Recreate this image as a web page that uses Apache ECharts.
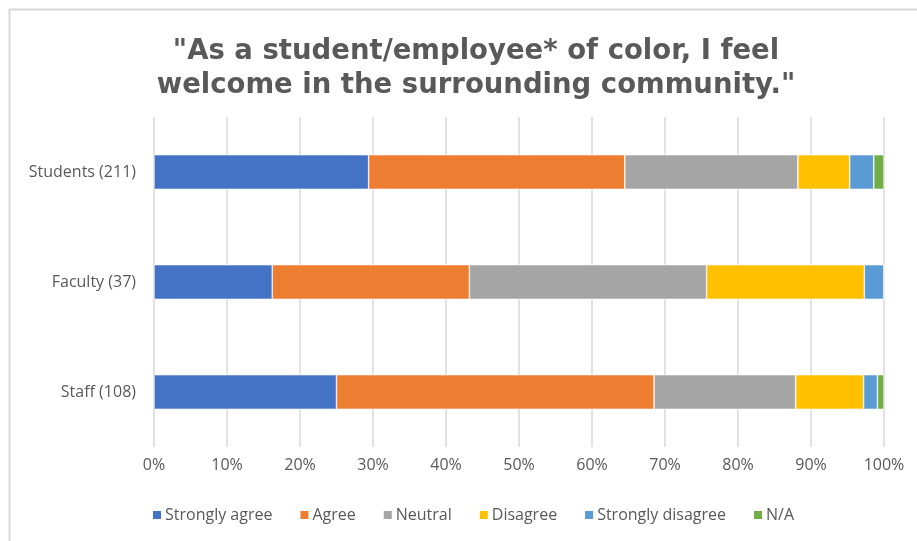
<!DOCTYPE html>
<html><head><meta charset="utf-8">
<script src="https://cdn.jsdelivr.net/npm/echarts@6/dist/echarts.min.js"></script>
<style>html,body{margin:0;padding:0;background:#fff}#c{width:917px;height:541px}</style>
</head><body><div id="c"></div>
<script>
var categories = ['Staff (108)', 'Faculty (37)', 'Students (211)'];
var seriesNames = ['Strongly agree', 'Agree', 'Neutral', 'Disagree', 'Strongly disagree', 'N/A'];
var stronglyAgree = [25.0, 16.2, 29.4];
var agree = [43.5, 27.0, 35.1];
var neutral = [19.4, 32.5, 23.7];
var disagree = [9.3, 21.6, 7.1];
var stronglyDisagree = [1.9, 2.7, 3.3];
var na = [0.9, 0, 1.4];
var tickLabels = ['0%','10%','20%','30%','40%','50%','60%','70%','80%','90%','100%'];
var colors = ['#4472C4', '#ED7D31', '#A5A5A5', '#FFC000', '#5B9BD5', '#70AD47'];
var values = [stronglyAgree, agree, neutral, disagree, stronglyDisagree, na];

var chart = echarts.init(document.getElementById('c'), null, {renderer: 'canvas'});
var font = "'Open Sans', sans-serif";
chart.setOption({
  animation: false,
  color: colors,
  title: {
    text: '"As a student/employee* of color, I feel\nwelcome in the surrounding community."',
    left: 471, top: 30, textAlign: 'center',
    textStyle: {fontFamily: "'DejaVu Sans'", fontWeight: 'bold', fontSize: 27.5, color: '#595959', lineHeight: 34}
  },
  graphic: [{
    type: 'polyline', shape: {points: [[9.5, 541], [9.5, 9.5], [917, 9.5]]},
    style: {stroke: '#d9d9d9', lineWidth: 2, fill: null}
  }],
  legend: {
    data: seriesNames, bottom: 13, left: 146,
    itemWidth: 10, itemHeight: 10, itemGap: 26, icon: 'rect',
    textStyle: {fontFamily: font, fontSize: 16, color: '#595959', padding: [0,0,0,-2]}
  },
  grid: {left: 154, right: 33, top: 117, bottom: 94, containLabel: false},
  xAxis: {
    type: 'value', min: 0, max: 100, interval: 10,
    axisLine: {show: false}, axisTick: {show: false},
    splitLine: {lineStyle: {color: '#d9d9d9', width: 1.5}},
    axisLabel: {fontFamily: font, fontSize: 16, color: '#595959', margin: 10,
      formatter: function (v) { return tickLabels[Math.round(v / 10)]; }}
  },
  yAxis: {
    type: 'category', data: categories,
    axisLine: {show: false}, axisTick: {show: false},
    axisLabel: {fontFamily: font, fontSize: 16, color: '#595959', margin: 18}
  },
  series: seriesNames.map(function (n, i) {
    return {
      name: n, type: 'bar', stack: 'total', data: values[i], barWidth: '31.5%',
      itemStyle: {color: colors[i], borderColor: '#ffffff', borderWidth: 0.6}
    };
  })
});
</script></body></html>
